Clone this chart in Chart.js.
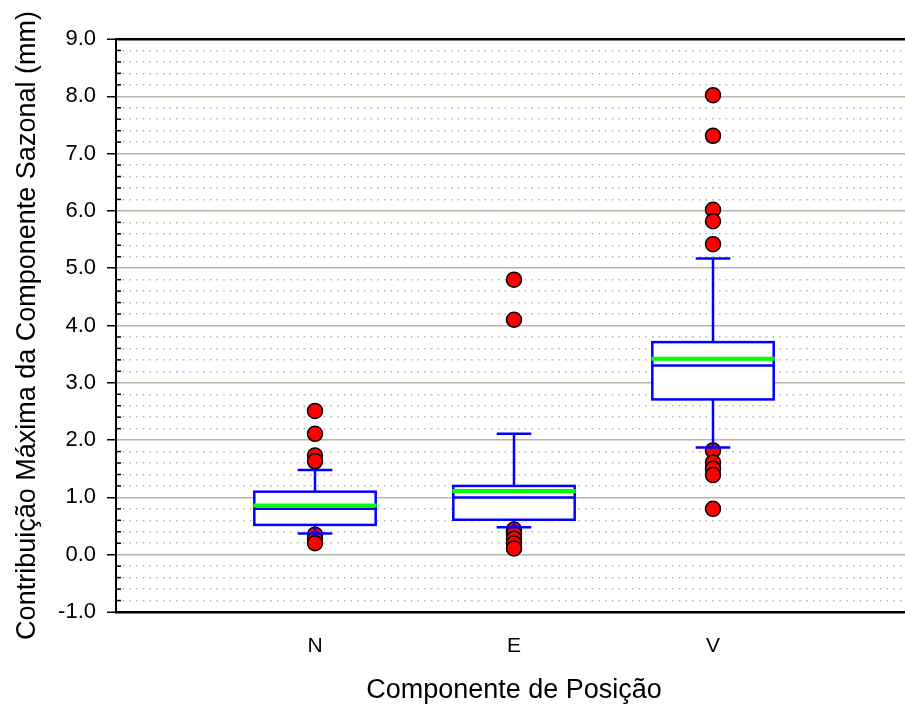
<!DOCTYPE html>
<html>
<head>
<meta charset="utf-8">
<script src="https://cdn.jsdelivr.net/npm/chart.js@4.4.0/dist/chart.umd.min.js"></script>
<style>
  html, body { margin: 0; padding: 0; background: #fff; overflow: hidden; }
  #wrap { width: 921px; height: 708px; }
  canvas { display: block; }
</style>
</head>
<body>
<div id="wrap"><canvas id="chart" width="921" height="708" style="width:921px;height:708px"></canvas></div>
<script>
// Box plot: contribuição máxima da componente sazonal por componente de posição

const categories = ["N", "E", "V"];
const q1 = [0.52, 0.61, 2.71];
const q3 = [1.10, 1.20, 3.71];
const medians = [0.80, 1.00, 3.30];
const means = [0.86, 1.11, 3.42];
const whiskerLow = [0.37, 0.48, 1.87];
const whiskerHigh = [1.48, 2.11, 5.17];
const outliersN = [2.51, 2.11, 1.73, 1.63, 0.35, 0.27, 0.20];
const outliersE = [4.80, 4.10, 0.44, 0.37, 0.28, 0.20, 0.11];
const outliersV = [8.02, 7.31, 6.02, 5.82, 5.42, 1.82, 1.61, 1.50, 1.39, 0.80];

const COLORS = {
  box: "#0000ff",
  mean: "#00ff00",
  outlier: "#ff0000",
  major: "#b8b8a6",
  minor: "#b4b4a4",
};
const FONT = "'Liberation Sans', Arial, sans-serif";
const BOX_HALF = 0.305;
const CAP_HALF = 0.087;

const outlierPoints = [outliersN, outliersE, outliersV]
  .flatMap((vals, i) => vals.map((v) => ({ x: i + 1, y: v })));

function line(ctx, x1, y1, x2, y2) {
  ctx.beginPath();
  ctx.moveTo(x1, y1);
  ctx.lineTo(x2, y2);
  ctx.stroke();
}

// caixas, bigodes, mediana e média desenhadas pelas escalas do gráfico
const boxPlugin = {
  id: "boxes",
  afterDatasetsDraw(chart) {
    const { ctx, scales: { x, y } } = chart;
    ctx.save();
    categories.forEach((c, i) => {
      const cx = x.getPixelForValue(i + 1);
      const l = x.getPixelForValue(i + 1 - BOX_HALF);
      const r = x.getPixelForValue(i + 1 + BOX_HALF);
      const cl = x.getPixelForValue(i + 1 - CAP_HALF);
      const cr = x.getPixelForValue(i + 1 + CAP_HALF);
      const yq1 = y.getPixelForValue(q1[i]);
      const yq3 = y.getPixelForValue(q3[i]);
      const ylo = y.getPixelForValue(whiskerLow[i]);
      const yhi = y.getPixelForValue(whiskerHigh[i]);
      ctx.strokeStyle = COLORS.box;
      ctx.lineWidth = 2.5;
      line(ctx, cx, yq3, cx, yhi);
      line(ctx, cx, yq1, cx, ylo);
      line(ctx, cl, yhi, cr, yhi);
      line(ctx, cl, ylo, cr, ylo);
      ctx.fillStyle = "#fff";
      ctx.fillRect(l, yq3, r - l, yq1 - yq3);
      ctx.strokeRect(l, yq3, r - l, yq1 - yq3);
      line(ctx, l, y.getPixelForValue(medians[i]), r, y.getPixelForValue(medians[i]));
      ctx.strokeStyle = COLORS.mean;
      ctx.lineWidth = 4;
      line(ctx, l - 1, y.getPixelForValue(means[i]), r + 1, y.getPixelForValue(means[i]));
    });
    // marcas menores para dentro do eixo Y
    const yMinor = chart.scales.yMinor;
    ctx.strokeStyle = "#000";
    ctx.lineWidth = 1.5;
    yMinor.ticks.forEach((t) => {
      if (Math.abs(t.value - Math.round(t.value)) < 1e-6) return;
      const py = yMinor.getPixelForValue(t.value);
      line(ctx, chart.chartArea.left, py, chart.chartArea.left + 5, py);
    });
    ctx.restore();
  },
};

new Chart(document.getElementById("chart"), {
  type: "scatter",
  data: {
    datasets: [{
      data: outlierPoints,
      backgroundColor: COLORS.outlier,
      borderColor: "#000",
      borderWidth: 1.5,
      pointRadius: 7.5,
    }],
  },
  options: {
    responsive: false,
    animation: false,
    layout: { padding: { top: 39, right: 4, left: 0, bottom: 0 } },
    plugins: { legend: { display: false }, tooltip: { enabled: false } },
    scales: {
      x: {
        type: "linear",
        min: 0,
        max: 4,
        afterBuildTicks: (s) => { s.ticks = categories.map((c, i) => ({ value: i + 1 })); },
        afterFit: (s) => { s.height = 96; },
        ticks: {
          callback: (v) => categories[v - 1] || "",
          color: "#000",
          font: { family: FONT, size: 21 },
          padding: 22,
          maxRotation: 0,
        },
        grid: { display: false, drawTicks: false },
        border: { color: "#000", width: 2 },
        title: {
          display: true,
          text: "Componente de Posição",
          color: "#000",
          font: { family: FONT, size: 27 },
          padding: { top: 0, bottom: 1 },
        },
      },
      y: {
        min: -1,
        max: 9,
        afterFit: (s) => { s.width = 116; },
        ticks: {
          stepSize: 1,
          callback: (v) => v.toFixed(1),
          color: "#000",
          font: { family: FONT, size: 22 },
          padding: 11,
        },
        grid: {
          color: (c) => (c.tick && (c.tick.value === 9 || c.tick.value === -1) ? "#000" : COLORS.major),
          lineWidth: (c) => (c.tick && (c.tick.value === 9 || c.tick.value === -1) ? 2.5 : 1.5),
          tickColor: "#000",
          tickLength: 9,
          tickWidth: 1.5,
        },
        border: { color: "#000", width: 2 },
        title: {
          display: true,
          text: "Contribuição Máxima da Componente Sazonal (mm)",
          color: "#000",
          font: { family: FONT, size: 27 },
          padding: { top: 11, bottom: 0 },
        },
      },
      yMinor: {
        position: "left",
        min: -1,
        max: 9,
        afterFit: (s) => { s.width = 0; },
        ticks: { display: false, stepSize: 0.2 },
        grid: {
          color: (c) => (c.tick && Math.abs(c.tick.value - Math.round(c.tick.value)) < 1e-6 ? "rgba(0,0,0,0)" : COLORS.minor),
          lineWidth: 1.5,
          drawTicks: false,
        },
        border: { display: false, dash: [1.5, 5.2] },
      },
    },
  },
  plugins: [boxPlugin],
});
</script>
</body>
</html>
